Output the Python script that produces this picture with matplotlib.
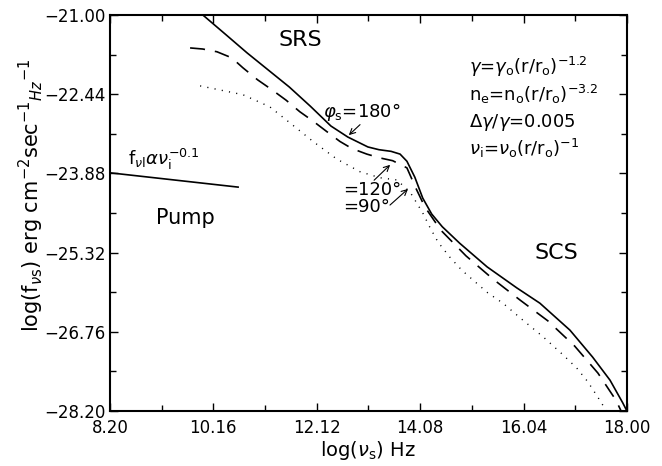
import numpy as np
import matplotlib
matplotlib.use('Agg')
import matplotlib.pyplot as plt

# curves (log nu_s, log f_nu_s)
solid_x = [9.96, 10.40, 10.80, 11.20, 11.60, 12.00, 12.39, 12.71, 13.09, 13.30, 13.53,
           13.70, 13.83, 13.98, 14.13, 14.30, 14.50, 14.83, 15.35, 15.91, 16.35, 16.92,
           17.35, 17.68, 17.92, 18.00]
solid_y = [-21.00, -21.36, -21.69, -22.00, -22.31, -22.66, -23.02, -23.22, -23.40, -23.45,
           -23.48, -23.53, -23.66, -23.95, -24.33, -24.62, -24.85, -25.15, -25.58, -25.96,
           -26.24, -26.73, -27.22, -27.64, -28.05, -28.20]

dash_x = [9.72, 9.96, 10.23, 10.51, 10.72, 11.00, 11.27, 11.54, 11.80, 12.05, 12.31, 12.56,
          12.79, 13.07, 13.32, 13.56, 13.83, 14.00, 14.17, 14.47, 14.95, 15.46, 15.97,
          16.50, 17.01, 17.45, 17.79, 17.89]
dash_y = [-21.60, -21.62, -21.67, -21.78, -21.96, -22.18, -22.36, -22.55, -22.76, -22.93,
          -23.12, -23.30, -23.43, -23.53, -23.60, -23.65, -23.78, -24.15, -24.49, -24.91,
          -25.38, -25.80, -26.18, -26.56, -27.02, -27.51, -28.00, -28.20]

dot_x = [9.91, 10.72, 11.23, 11.61, 12.05, 12.50, 12.94, 13.32, 13.64, 13.89, 14.13, 14.27,
         14.42, 14.64, 14.87, 15.12, 15.36, 15.65, 16.03, 16.41, 16.79, 17.05, 17.26,
         17.45, 17.58, 17.62]
dot_y = [-22.29, -22.45, -22.67, -22.96, -23.30, -23.62, -23.85, -23.96, -24.00, -24.22,
         -24.60, -24.87, -25.13, -25.40, -25.64, -25.85, -26.05, -26.24, -26.55, -26.85,
         -27.18, -27.42, -27.67, -27.95, -28.15, -28.20]

pump_x = [8.20, 10.63]
pump_y = [-23.87, -24.13]

xticks = [8.20, 10.16, 12.12, 14.08, 16.04, 18.00]
yticks = [-21.00, -22.44, -23.88, -25.32, -26.76, -28.20]

fig = plt.figure(figsize=(6.62, 4.66), dpi=100)
ax = fig.add_axes([0.166, 0.118, 0.781, 0.850])

ax.plot(solid_x, solid_y, color='black', lw=1.2)
ax.plot(dash_x, dash_y, color='black', lw=1.2, dashes=(9, 6))
ax.plot(dot_x, dot_y, color='black', lw=1.0, dashes=(0.8, 4.5))
ax.plot(pump_x, pump_y, color='black', lw=1.2)

ax.set_xlim(8.2, 18.0)
ax.set_ylim(-28.2, -21.0)
ax.set_xticks(xticks)
ax.set_yticks(yticks)
ax.set_xticklabels(['%.2f' % v for v in xticks])
ax.set_yticklabels([('%.2f' % v).replace('-', '\u2212') for v in yticks])
ax.set_xticks([(a + b) / 2 for a, b in zip(xticks[:-1], xticks[1:])], minor=True)
ax.set_yticks([(a + b) / 2 for a, b in zip(yticks[:-1], yticks[1:])], minor=True)
ax.tick_params(which='both', direction='in', top=True, right=True, labelsize=12)
ax.tick_params(axis='x', pad=6)
ax.tick_params(axis='y', pad=3)
ax.tick_params(which='major', length=6, width=1.0)
ax.tick_params(which='minor', length=4, width=1.0)
for s in ax.spines.values():
    s.set_linewidth(1.5)

ax.set_xlabel(r'log($\nu_{\rm s}$) Hz', fontsize=14, labelpad=1)
fig.text(0.048, 0.58, r'log(f$_{\nu \rm s}$) erg cm$^{-2}$sec$^{-1}$${}_{Hz}{}^{-1}$',
         rotation=90, ha='center', va='center', fontsize=15)

ax.text(11.80, -21.45, 'SRS', fontsize=16, ha='center', va='center')
ax.text(16.67, -25.33, 'SCS', fontsize=16, ha='center', va='center')
ax.text(9.64, -24.69, 'Pump', fontsize=15, ha='center', va='center')
ax.text(8.54, -23.73, r'f$_{\nu \rm l}\alpha\nu_{\rm i}^{-0.1}$', fontsize=13, va='baseline')

ax.text(12.24, -22.76, r'$\varphi_{\rm s}$=180°', fontsize=13, va='center')
ax.text(12.62, -24.18, '=120°', fontsize=13, va='center')
ax.text(12.62, -24.49, '=90°', fontsize=13, va='center')
arrow = dict(arrowstyle='->', color='black', lw=0.8)
ax.annotate('', xy=(12.69, -23.22), xytext=(12.98, -22.96), arrowprops=arrow)
ax.annotate('', xy=(13.55, -23.69), xytext=(13.17, -24.04), arrowprops=arrow)
ax.annotate('', xy=(13.89, -24.13), xytext=(13.47, -24.49), arrowprops=arrow)

params = [r'$\gamma$=$\gamma_{\rm o}$(r/r$_{\rm o}$)$^{-1.2}$',
          r'n$_{\rm e}$=n$_{\rm o}$(r/r$_{\rm o}$)$^{-3.2}$',
          r'$\Delta\gamma/\gamma$=0.005',
          r'$\nu_{\rm i}$=$\nu_{\rm o}$(r/r$_{\rm o}$)$^{-1}$']
for txt, yy in zip(params, [-21.95, -22.45, -22.95, -23.42]):
    ax.text(15.0, yy, txt, fontsize=13, va='center')

fig.savefig('out.png', dpi=100)
